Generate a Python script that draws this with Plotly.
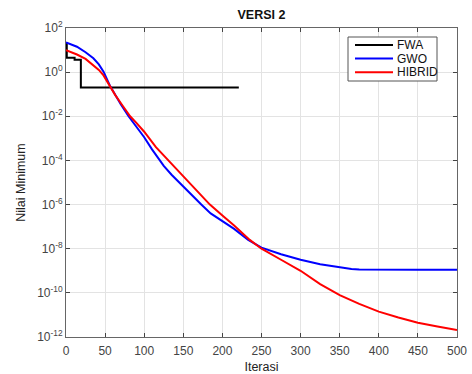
import plotly.graph_objects as go

# FWA (step curve)
fwa_iter = [0, 1, 11, 19, 221]
fwa_val = [19, 4.5, 3.6, 0.2, 0.2]

# GWO (log10 of value)
gwo_iter = [0, 14, 25, 35, 42, 48, 56, 63, 70, 80, 90, 100, 110, 118, 125, 135, 150, 160, 173,
            185, 200, 215, 233, 250, 275, 300, 325, 350, 365, 375, 400, 450, 500]
gwo_log = [1.35, 1.15, 0.9, 0.63, 0.35, 0.02, -0.6, -1.04, -1.45, -2.0, -2.47, -2.95, -3.5, -3.93,
           -4.25, -4.65, -5.2, -5.55, -6.0, -6.4, -6.75, -7.1, -7.6, -7.95, -8.25, -8.5, -8.7,
           -8.85, -8.92, -8.94, -8.95, -8.95, -8.95]

# HIBRID
hib_iter = [0, 14, 25, 35, 42, 48, 56, 63, 72, 82, 90, 100, 115, 131, 140, 150, 165, 184, 200,
            215, 235, 250, 275, 300, 325, 350, 375, 400, 425, 450, 475, 500]
hib_log = [1.0, 0.8, 0.6, 0.32, 0.1, -0.15, -0.62, -1.04, -1.5, -2.0, -2.3, -2.7, -3.4, -4.0,
           -4.35, -4.72, -5.3, -6.0, -6.5, -6.95, -7.6, -8.0, -8.5, -9.0, -9.6, -10.1, -10.5,
           -10.85, -11.12, -11.35, -11.52, -11.68]

legend_names = ["FWA", "GWO", "HIBRID"]
legend_colors = ["black", "#0000ff", "#ff0000"]

y_ticks = [2, 0, -2, -4, -6, -8, -10, -12]
x_ticks = list(range(0, 501, 50))

font = "Arial, Liberation Sans, Helvetica, sans-serif"

fig = go.Figure()
fig.add_trace(go.Scatter(x=fwa_iter, y=fwa_val, mode="lines", name="FWA",
                         line=dict(color="black", width=2, shape="hv")))
fig.add_trace(go.Scatter(x=gwo_iter, y=[10 ** v for v in gwo_log], mode="lines", name="GWO",
                         line=dict(color="#0000ff", width=2)))
fig.add_trace(go.Scatter(x=hib_iter, y=[10 ** v for v in hib_log], mode="lines", name="HIBRID",
                         line=dict(color="#ff0000", width=2)))

# plot area in pixels: x 66..457, y 28..337
L, R, T, B = 66, 457, 28, 337
W, H = 472, 374


def px(xp):
    return (xp - L) / (R - L)


def py(yp):
    return (B - yp) / (B - T)


shapes = [dict(type="rect", xref="paper", yref="paper",
               x0=px(348), x1=px(437), y0=py(81), y1=py(37),
               line=dict(color="#555", width=1), fillcolor="white", layer="above")]
annotations = []
for i, (nm, col) in enumerate(zip(legend_names, legend_colors)):
    yy = 45 + i * 13.6
    shapes.append(dict(type="line", xref="paper", yref="paper",
                       x0=px(355), x1=px(393), y0=py(yy), y1=py(yy),
                       line=dict(color=col, width=2), layer="above"))
    annotations.append(dict(xref="paper", yref="paper", x=px(395), y=py(yy),
                            xanchor="left", yanchor="middle", text=nm, showarrow=False,
                            font=dict(size=12, color="#111", family=font)))

fig.update_layout(
    width=W, height=H,
    margin=dict(l=L, r=W - R, t=T, b=H - B, autoexpand=False),
    paper_bgcolor="white", plot_bgcolor="white",
    font=dict(family=font, size=12, color="#333"),
    title=dict(text="<b>VERSI 2</b>", x=(L + R) / 2 / W, xanchor="center",
               y=1 - 15 / H, yanchor="middle", font=dict(size=12.5, color="#111")),
    showlegend=False,
    shapes=shapes,
    annotations=annotations,
)
fig.update_xaxes(range=[0, 500], tickvals=x_ticks, ticks="inside", ticklen=4,
                 showline=True, linecolor="#666", linewidth=1, mirror="ticks",
                 showgrid=True, gridcolor="#e3e3e3", zeroline=False, automargin=False,
                 tickfont=dict(size=12, color="#444"), ticklabelstandoff=3,
                 title=dict(text="Iterasi", font=dict(size=12.5, color="#222"), standoff=4))
fig.update_yaxes(type="log", range=[-12, 2], tickvals=[10 ** v for v in y_ticks],
                 ticktext=["10<sup>%d</sup>" % v for v in y_ticks],
                 ticks="inside", ticklen=4,
                 showline=True, linecolor="#666", linewidth=1, mirror="ticks",
                 showgrid=True, gridcolor="#e3e3e3", zeroline=False, automargin=False,
                 tickfont=dict(size=12, color="#444"),
                 title=dict(text="Nilai Minimum", font=dict(size=12.5, color="#222"), standoff=8))

fig.write_html("out.html")
